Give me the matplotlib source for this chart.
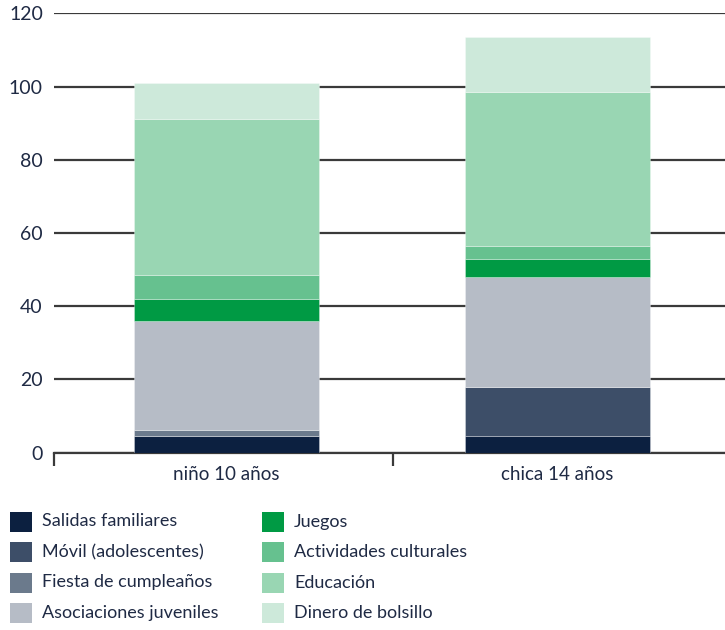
import numpy as np
import matplotlib.pyplot as plt
from matplotlib.patches import Rectangle

plt.rcParams['font.family'] = ['Lato', 'DejaVu Sans']

groups = ["niño 10 años", "chica 14 años"]
categories = ["Salidas familiares", "Móvil (adolescentes)", "Fiesta de cumpleaños",
              "Asociaciones juveniles", "Juegos", "Actividades culturales",
              "Educación", "Dinero de bolsillo"]
colors = ["#0c2040", "#3d4e68", "#6b7a8c", "#b6bcc6",
          "#009a44", "#66c18f", "#99d6b3", "#cde9da"]

salidas = [4.5, 4.5]
movil = [0, 13.5]
fiesta = [1.6, 0]
asociaciones = [29.8, 30]
juegos = [6, 5]
actividades = [6.6, 3.4]
educacion = [42.5, 42]
dinero = [10, 15]
series = [salidas, movil, fiesta, asociaciones, juegos, actividades, educacion, dinero]

text_color = "#1f2a44"

fig = plt.figure(figsize=(7.25, 6.3), dpi=100)
ax = fig.add_axes([54 / 725, 1 - 452.6 / 630, 1 - 54 / 725, (452.6 - 13.3) / 630])

x = np.arange(len(groups))
bottom = np.zeros(len(groups))
for vals, col in zip(series, colors):
    ax.bar(x, vals, bottom=bottom, width=0.557, color=col,
           edgecolor=(1, 1, 1, 0.35), linewidth=0.6, zorder=3)
    bottom += np.array(vals)

ax.set_xlim(-0.52, 1.505)
ax.set_ylim(0, 120)
ax.set_yticks(range(0, 121, 20))
ax.yaxis.grid(True, color="#3a3a3a", linewidth=1.6, zorder=1)
ax.set_axisbelow(True)

for s in ["left", "right", "top"]:
    ax.spines[s].set_visible(False)
ax.spines["bottom"].set_color("#3a3a3a")
ax.spines["bottom"].set_linewidth(1.6)

ax.tick_params(axis="y", length=0, pad=8, labelsize=14, labelcolor=text_color)
ax.set_xticks(x)
ax.set_xticklabels(groups)
ax.tick_params(axis="x", which="major", length=0, pad=10, labelsize=13.5,
               labelcolor=text_color)
ax.set_xticks([-0.52, 0.503], minor=True)
ax.tick_params(axis="x", which="minor", length=9, width=1.6, color="#3a3a3a",
               direction="out")

# legend, two columns of four
W, H = 725, 630
for i, (lab, col) in enumerate(zip(categories, colors)):
    c, r = divmod(i, 4)
    x0 = 10 + c * 252
    yc = 521.5 + r * 30.5
    fig.add_artist(Rectangle((x0 / W, 1 - (yc + 10) / H), 22 / W, 20 / H,
                             transform=fig.transFigure, facecolor=col,
                             edgecolor="none"))
    fig.text((x0 + 32) / W, 1 - yc / H, lab, fontsize=13, color=text_color,
             va="center", ha="left")

fig.savefig("out.png", dpi=100)
